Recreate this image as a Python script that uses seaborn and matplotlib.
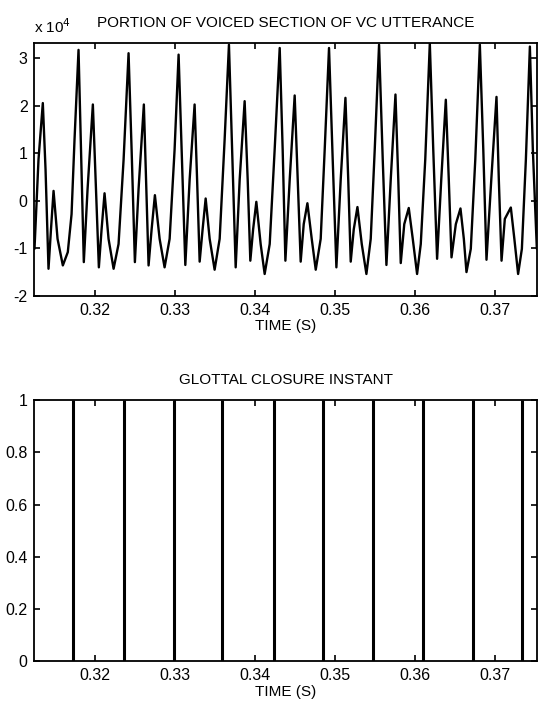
import numpy as np
import pandas as pd
import matplotlib
matplotlib.use("Agg")
import matplotlib.pyplot as plt
import seaborn as sns

# waveform (time in s, amplitude in units of 1e4)
wave_t = [0.3125, 0.31300, 0.31354, 0.31388, 0.31425, 0.31456, 0.31488, 0.31538, 0.31604, 0.31666,
          0.31713, 0.31750, 0.31800, 0.31831, 0.31866, 0.31913, 0.31979, 0.32013, 0.32054, 0.32088,
          0.32125, 0.32175, 0.32238, 0.32300, 0.32363, 0.32425, 0.32463, 0.32504, 0.32550, 0.32616,
          0.32644, 0.32675, 0.32713, 0.32754, 0.32813, 0.32875, 0.32938, 0.33000, 0.33050, 0.33088,
          0.33134, 0.33188, 0.33250, 0.33281, 0.33313, 0.33350, 0.33388, 0.33438, 0.33500, 0.33563,
          0.33625, 0.33679, 0.33719, 0.33763, 0.33813, 0.33875, 0.33913, 0.33946, 0.33981, 0.34021,
          0.34075, 0.34125, 0.34188, 0.34250, 0.34313, 0.34350, 0.34384, 0.34438, 0.34500, 0.34538,
          0.34575, 0.34613, 0.34659, 0.34713, 0.34763, 0.34825, 0.34875, 0.34929, 0.34975, 0.35021,
          0.35075, 0.35134, 0.35169, 0.35200, 0.35238, 0.35284, 0.35338, 0.35396, 0.35450, 0.35500,
          0.35554, 0.35600, 0.35646, 0.35700, 0.35759, 0.35794, 0.35825, 0.35869, 0.35925, 0.35975,
          0.36029, 0.36075, 0.36131, 0.36188, 0.36231, 0.36279, 0.36331, 0.36388, 0.36425, 0.36459,
          0.36513, 0.36571, 0.36613, 0.36646, 0.36700, 0.36756, 0.36813, 0.36856, 0.36896, 0.36956,
          0.37021, 0.37050, 0.37084, 0.37125, 0.37200, 0.37244, 0.37291, 0.37338, 0.37388, 0.37438,
          0.37475, 0.37525]
wave_amp = [-1.01, 0.87, 2.06, 0.66, -1.43, -0.60, 0.21, -0.80, -1.36, -1.08,
            -0.28, 1.29, 3.18, 1.08, -1.29, 0.25, 2.03, 0.45, -1.40, -0.60,
            0.16, -0.80, -1.43, -0.91, 0.87, 3.11, 1.08, -1.29, 0.25, 2.03,
            0.45, -1.36, -0.60, 0.12, -0.80, -1.40, -0.80, 1.08, 3.08, 1.08,
            -1.35, 0.45, 2.03, 0.45, -1.28, -0.60, 0.05, -0.80, -1.45, -0.80,
            1.29, 3.29, 1.08, -1.40, 0.45, 2.10, 0.45, -1.26, -0.60, -0.02,
            -0.91, -1.54, -0.91, 1.08, 3.22, 1.08, -1.26, 0.45, 2.22, 0.45,
            -1.28, -0.49, -0.05, -0.80, -1.45, -0.80, 1.08, 3.22, 0.87, -1.40,
            0.45, 2.17, 0.45, -1.28, -0.60, -0.13, -0.91, -1.54, -0.80, 1.08,
            3.29, 0.87, -1.35, 0.45, 2.24, 0.45, -1.31, -0.49, -0.15, -0.80,
            -1.54, -0.91, 0.87, 3.32, 1.08, -1.22, 0.45, 2.13, 0.45, -1.19,
            -0.49, -0.16, -0.80, -1.50, -1.01, 0.87, 3.29, 1.08, -1.24, 0.45,
            2.19, 0.45, -1.26, -0.38, -0.14, -0.80, -1.54, -1.01, 0.87, 3.25,
            1.08, -1.01]

# glottal closure instants (s)
gci_t = [0.31736, 0.32371, 0.32993, 0.33590, 0.34238, 0.34860, 0.35483, 0.36105, 0.36727, 0.37341]

x_ticks = [0.32, 0.33, 0.34, 0.35, 0.36, 0.37]
x_tick_labels = ["0.32", "0.33", "0.34", "0.35", "0.36", "0.37"]
top_yticks = [-2, -1, 0, 1, 2, 3]
bot_yticks = [0, 0.2, 0.4, 0.6, 0.8, 1]
bot_ytick_labels = ["0", "0.2", "0.4", "0.6", "0.8", "1"]

sns.set_style("ticks")
plt.rcParams["font.family"] = ["Liberation Sans", "DejaVu Sans"]
plt.rcParams["axes.unicode_minus"] = False
plt.rcParams["text.color"] = "black"
plt.rcParams["axes.labelcolor"] = "black"
plt.rcParams["xtick.color"] = "black"
plt.rcParams["ytick.color"] = "black"

df = pd.DataFrame({"t": wave_t, "amp": wave_amp})

fig = plt.figure(figsize=(5.39, 7.01), dpi=100)
ax1 = fig.add_axes([0.064, 0.578, 0.932, 0.361])
ax2 = fig.add_axes([0.064, 0.0565, 0.932, 0.3726])

sns.lineplot(data=df, x="t", y="amp", ax=ax1, color="black", linewidth=1.7, sort=False)
ax1.set_xlim(0.3125, 0.37525)
ax1.set_ylim(-2, 3.33)
ax1.set_yticks(top_yticks)
ax1.set_yticklabels([str(v) for v in top_yticks])
ax1.set_title("PORTION OF VOICED SECTION OF VC UTTERANCE", fontsize=11, pad=11)
ax1.text(0.0, 1.025, r"x 10$^4$", transform=ax1.transAxes, fontsize=11, ha="left", va="bottom")

ax2.vlines(gci_t, 0, 1, color="black", linewidth=2.2)
ax2.set_xlim(0.3125, 0.37525)
ax2.set_ylim(0, 1)
ax2.set_yticks(bot_yticks)
ax2.set_yticklabels(bot_ytick_labels)
ax2.set_title("GLOTTAL CLOSURE INSTANT", fontsize=11, pad=12)

for ax in (ax1, ax2):
    ax.set_xticks(x_ticks)
    ax.set_xticklabels(x_tick_labels)
    ax.set_xlabel("TIME (S)", fontsize=11, labelpad=1)
    ax.set_ylabel("")
    ax.tick_params(axis="both", which="both", direction="in", top=True, right=True,
                   length=4, width=1.2, labelsize=11.5, pad=5, color="black")
    for sp in ax.spines.values():
        sp.set_visible(True)
        sp.set_linewidth(1.3)
        sp.set_color("black")

fig.savefig("out.png", dpi=100)
